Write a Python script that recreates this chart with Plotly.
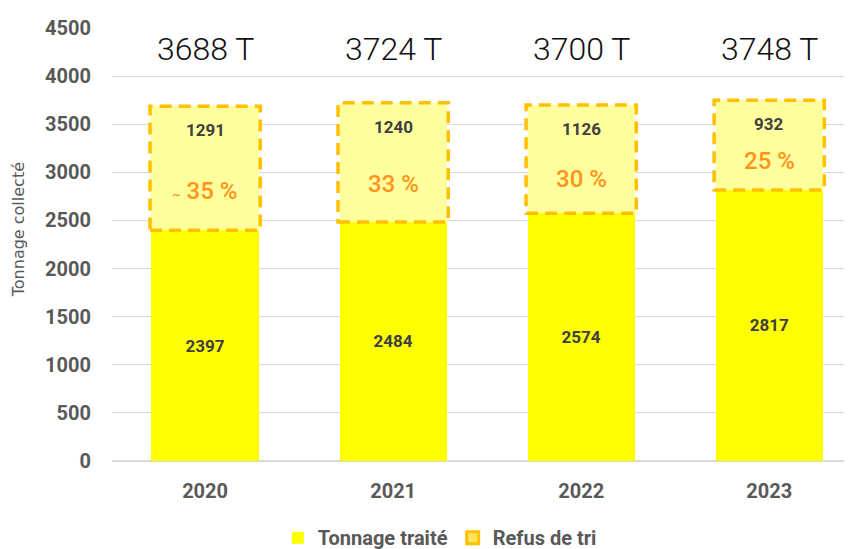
import plotly.graph_objects as go

years = ['2020', '2021', '2022', '2023']
tonnage_traite = [2397, 2484, 2574, 2817]
refus_tri = [1291, 1240, 1126, 932]
totals = [3688, 3724, 3700, 3748]
pct_labels = ["<span style='font-size:13px'>~</span> 35 %", '33 %', '30 %', '25 %']

GREY = '#595959'
DARK = '#404040'
YELLOW = '#FFFF00'
PALE = '#FFFF9E'
DASH_ORANGE = '#FFC000'
PCT_ORANGE = '#FF9419'
BASE_FONT = 'Roboto, DejaVu Sans, sans-serif'
HAND_FONT = 'Roboto, sans-serif'

BAR_W = 0.57
BOX_HALF = 0.293

fig = go.Figure()

fig.add_trace(go.Bar(
    x=years, y=tonnage_traite, name='Tonnage traité',
    width=BAR_W, marker=dict(color=YELLOW, line=dict(width=0)),
    text=[str(v) for v in tonnage_traite], textposition='inside',
    insidetextanchor='middle',
    textfont=dict(family=BASE_FONT, size=17, color=DARK, weight='bold'),
    hoverinfo='skip'
))
fig.add_trace(go.Bar(
    x=years, y=refus_tri, name='Refus de tri', showlegend=False,
    width=BAR_W, marker=dict(color=PALE, line=dict(width=0)),
    hoverinfo='skip'
))
# legend-only entry with the orange border look
fig.add_trace(go.Bar(
    x=years, y=[None] * len(years), name='Refus de tri',
    marker=dict(color='#FFE45C', line=dict(color=DASH_ORANGE, width=3)),
    hoverinfo='skip'
))

# dashed boxes around the refus segments
for i, (t, r) in enumerate(zip(tonnage_traite, refus_tri)):
    fig.add_shape(type='rect', xref='x', yref='y',
                  x0=i - BOX_HALF, x1=i + BOX_HALF, y0=t, y1=t + r,
                  line=dict(color=DASH_ORANGE, width=3.5, dash='12px,7px'),
                  fillcolor='rgba(0,0,0,0)', layer='above')

annotations = []
for i in range(len(years)):
    annotations.append(dict(
        x=i, y=4280, xref='x', yref='y', text=f'{totals[i]} T', showarrow=False,
        font=dict(family=HAND_FONT, size=32, color='#111111', weight=300)))
    annotations.append(dict(
        x=i, y=totals[i] - 250, xref='x', yref='y', text=str(refus_tri[i]),
        showarrow=False, font=dict(family=BASE_FONT, size=17, color=DARK, weight='bold')))
    annotations.append(dict(
        x=i, y=totals[i] - 0.68 * refus_tri[i], xref='x', yref='y', text=pct_labels[i],
        showarrow=False, font=dict(family=BASE_FONT, size=24, color=PCT_ORANGE, weight=500)))

annotations.append(dict(
    x=-0.127, y=0.533, xref='paper', yref='paper', text='Tonnage collecté',
    textangle=-90, showarrow=False, xanchor='center', yanchor='middle',
    font=dict(family='DejaVu Sans, sans-serif', size=16, color=GREY)))

# page body has an 8px margin, margins below compensate for it;
# figure is a bit taller than the window so the legend has room
fig.update_layout(
    width=852, height=570,
    margin=dict(l=104, r=8, t=18, b=117),
    paper_bgcolor='white', plot_bgcolor='white',
    barmode='stack',
    showlegend=True,
    legend=dict(orientation='h', x=0.443, xanchor='center', y=-0.177, yanchor='middle',
                font=dict(family=BASE_FONT, size=20, color=GREY, weight='bold'),
                itemwidth=30, traceorder='normal'),
    annotations=annotations,
    font=dict(family=BASE_FONT)
)
fig.update_xaxes(type='category', range=[-0.495, 3.44], showgrid=False, showline=False,
                 tickfont=dict(family=BASE_FONT, size=20, color=GREY, weight='bold'),
                 ticks='', ticklabelstandoff=16)
fig.update_yaxes(range=[0, 4500], dtick=500, showgrid=True, gridcolor='#D9D9D9',
                 gridwidth=1, zeroline=True, zerolinecolor='#D9D9D9', zerolinewidth=1.5,
                 tickfont=dict(family=BASE_FONT, size=20, color=GREY, weight='bold'),
                 ticks='', ticklabelstandoff=20)

fig.write_html('out.html')
